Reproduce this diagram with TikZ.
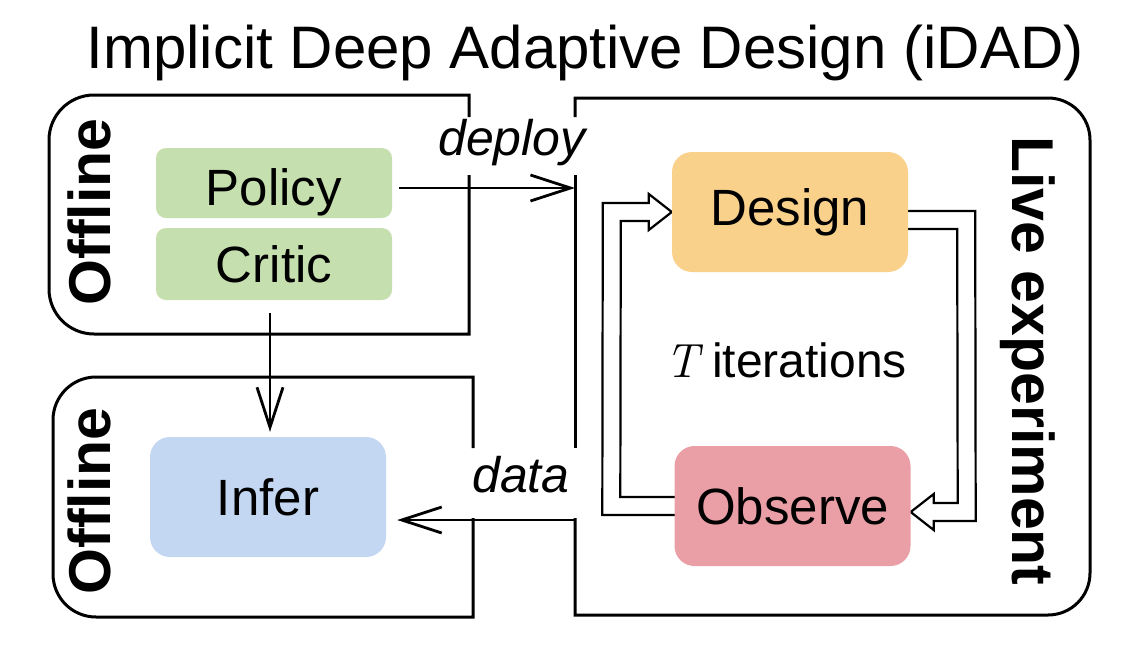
\documentclass[tikz,border=0pt]{standalone}
\usepackage{fontspec}
\setmainfont{Liberation Sans}
\newfontfamily\lmr{Latin Modern Roman}
\usetikzlibrary{arrows.meta,calc}
\pgfdeclarelayer{bg}
\pgfsetlayers{bg,main}
\definecolor{cgreen}{RGB}{197,223,175}
\definecolor{corange}{RGB}{249,209,139}
\definecolor{cblue}{RGB}{195,215,242}
\definecolor{cpink}{RGB}{234,158,166}
\tikzset{
  frame/.style={line width=3pt},
  box/.style={rounded corners=20pt, minimum width=236pt, inner sep=0pt,
    font=\fontsize{51}{60}\selectfont, text=black},
  arr/.style={line width=2.8pt, -{Straight Barb[length=40pt,width=26pt]}},
  hollow/.style={line width=2.2pt, fill=white, line join=miter},
  vlabel/.style={font=\bfseries\fontsize{59}{68}\selectfont, inner sep=0pt},
  edgelabel/.style={font=\itshape\fontsize{50}{60}\selectfont, inner sep=0pt}
}
\begin{document}
\begin{tikzpicture}[x=1pt,y=1pt]
\useasboundingbox (0,0) rectangle (1138,-646);

% title
\node[font=\fontsize{60}{72}\selectfont, anchor=base, inner sep=0pt] (title) at (585,-68) {Implicit Deep Adaptive Design (iDAD)};

% frames
\draw[frame] (469,-117) -- (469,-95) -- (94,-95) arc(90:180:45) -- (49,-289) arc(180:270:45) -- (469,-334) -- (469,-175);
\draw[frame] (473,-448) -- (473,-377) -- (96,-377) arc(90:180:43) -- (53,-574) arc(180:270:43) -- (473,-617) -- (473,-518);
\draw[frame] (575,-117) -- (575,-98) -- (1048,-98) arc(90:0:42) -- (1090,-573) arc(0:-90:42) -- (575,-615) -- (575,-518);
\draw[frame] (575,-175) -- (575,-448);

% frame labels
\node[vlabel, rotate=90, anchor=base] (off1) at (110,-212) {Offline};
\node[vlabel, rotate=90, anchor=base] (off2) at (110,-501) {Offline};
\node[vlabel, rotate=-90, anchor=base] (live) at (1012,-361) {Live experiment};

% boxes
\node[box, fill=cgreen, rounded corners=10pt, minimum height=70pt, text height=50pt, text depth=6pt] (policy) at (274,-183) {Policy};
\node[box, fill=cgreen, rounded corners=10pt, minimum height=72pt] (critic) at (274,-264) {Critic};
\node[box, fill=corange, minimum height=120pt] (design) at (790,-212) {Design};
\node[box, fill=cpink, minimum height=120pt] (observe) at (792.5,-506) {Observe};
\node[box, fill=cblue, minimum height=120pt] (infer) at (268,-497) {Infer};

% edge labels
\node[edgelabel, anchor=base] (deploy) at (512,-155) {deploy};
\node[edgelabel, anchor=base] (data) at (521,-492) {data};
\node[font=\fontsize{48}{56}\selectfont, anchor=base, inner sep=0pt] (iter) at (786,-377) {{\lmr\itshape T} iterations};

% arrows
\coordinate (dep) at (575,-188);
\draw[arr, shorten <=7pt] (policy.east |- dep) -- (dep);
\coordinate (cs) at ([xshift=-4pt]critic.south);
\draw[arr, shorten <=13pt, shorten >=5pt] (cs) -- (cs |- infer.north);
\coordinate (dat) at (576,-520);
\draw[arr, shorten >=11pt] (dat) -- (infer.east |- dat);

% hollow loop arrows
\coordinate (a) at ($(design.east)+(0,-8)$);
\coordinate (b) at ($(observe.east)+(0,-6)$);
\begin{pgfonlayer}{bg}
\draw[hollow] ($(observe.west)+(5,-9)$) -- ($(observe.west)+(-72,-9)$) -- ($(design.west)+(-69,9)$)
  -- ($(design.west)+(-23,9)$) -- ($(design.west)+(-23,18)$) -- (design.west)
  -- ($(design.west)+(-23,-18)$) -- ($(design.west)+(-23,-9)$) -- ($(design.west)+(-51,-9)$)
  -- ($(observe.west)+(-54,9)$) -- ($(observe.west)+(5,9)$) -- cycle;
\draw[hollow] ($(a)+(-5,9)$) -- ($(a)+(67,9)$) -- ($(b)+(65,-9)$) -- ($(b)+(23,-9)$)
  -- ($(b)+(23,-18)$) -- (b) -- ($(b)+(23,18)$) -- ($(b)+(23,9)$) -- ($(b)+(47,9)$)
  -- ($(a)+(49,-9)$) -- ($(a)+(-5,-9)$) -- cycle;
\end{pgfonlayer}
\end{tikzpicture}
\end{document}
